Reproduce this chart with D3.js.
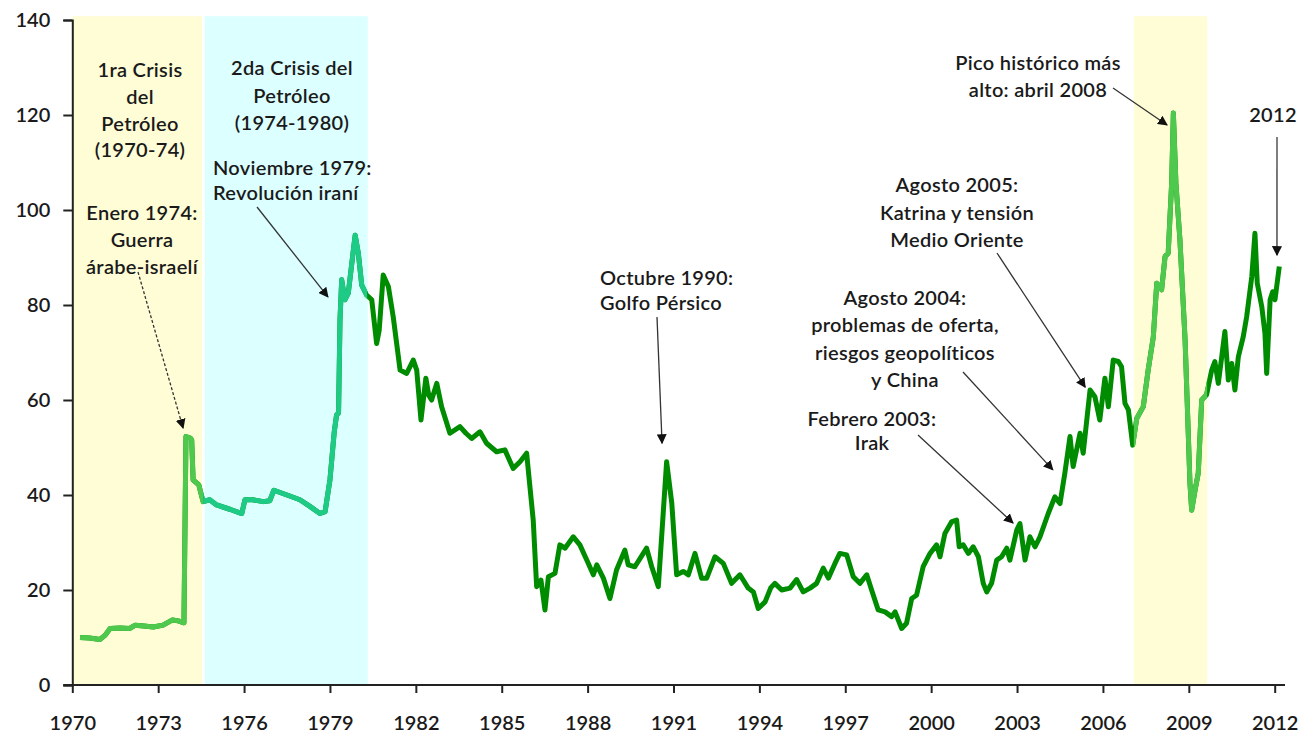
<!DOCTYPE html>
<html>
<head>
<meta charset="utf-8">
<script src="https://cdnjs.cloudflare.com/ajax/libs/d3/7.8.5/d3.min.js"></script>
<style>
  body { margin: 0; background: #fff; }
  text { font-family: Lato, "Noto Sans", sans-serif; }
</style>
</head>
<body>
<div id="chart"></div>
<script>
const w = 1306, h = 738;

const dates = [
  1970.27, 1970.6, 1970.97, 1971.15, 1971.32, 1971.67, 1972.0, 1972.2, 1972.5, 1972.83,
  1973.17, 1973.5, 1973.7, 1973.9, 1973.97, 1974.12, 1974.17, 1974.22, 1974.35, 1974.42,
  1974.57, 1974.8, 1975.04, 1975.5, 1975.92, 1976.03, 1976.3, 1976.67, 1976.9, 1977.04,
  1977.5, 1977.95, 1978.3, 1978.65, 1978.83, 1979.0, 1979.15, 1979.23, 1979.3, 1979.35,
  1979.41, 1979.52, 1979.64, 1979.88, 1979.99, 1980.11, 1980.28, 1980.46, 1980.63, 1980.72,
  1980.86, 1981.04, 1981.21, 1981.45, 1981.68, 1981.91, 1982.03, 1982.18, 1982.35, 1982.45,
  1982.55, 1982.73, 1982.9, 1983.19, 1983.54, 1983.75, 1983.95, 1984.24, 1984.47, 1984.82,
  1985.11, 1985.4, 1985.64, 1985.87, 1986.1, 1986.22, 1986.37, 1986.51, 1986.63, 1986.86,
  1987.03, 1987.21, 1987.5, 1987.73, 1987.97, 1988.2, 1988.32, 1988.55, 1988.78, 1989.01,
  1989.3, 1989.42, 1989.65, 1990.06, 1990.24, 1990.47, 1990.76, 1990.94, 1991.11, 1991.34,
  1991.52, 1991.75, 1991.98, 1992.16, 1992.45, 1992.74, 1993.03, 1993.32, 1993.61, 1993.79,
  1993.96, 1994.2, 1994.4, 1994.54, 1994.78, 1995.07, 1995.3, 1995.53, 1995.77, 1996.0,
  1996.23, 1996.41, 1996.64, 1996.81, 1997.05, 1997.28, 1997.51, 1997.75, 1997.92, 1998.15,
  1998.39, 1998.62, 1998.74, 1998.97, 1999.14, 1999.32, 1999.49, 1999.72, 1999.96, 2000.19,
  2000.31, 2000.48, 2000.72, 2000.89, 2000.98, 2001.12, 2001.3, 2001.47, 2001.65, 2001.82,
  2001.94, 2002.11, 2002.29, 2002.46, 2002.64, 2002.75, 2002.99, 2003.1, 2003.28, 2003.45,
  2003.63, 2003.8, 2004.09, 2004.32, 2004.5, 2004.67, 2004.85, 2004.96, 2005.2, 2005.31,
  2005.55, 2005.72, 2005.89, 2006.07, 2006.19, 2006.36, 2006.54, 2006.65, 2006.77, 2006.89,
  2007.04, 2007.18, 2007.41, 2007.58, 2007.76, 2007.88, 2008.05, 2008.17, 2008.28, 2008.4,
  2008.46, 2008.55, 2008.69, 2008.87, 2009.04, 2009.1, 2009.22, 2009.33, 2009.45, 2009.62,
  2009.8, 2009.91, 2010.03, 2010.15, 2010.26, 2010.38, 2010.5, 2010.61, 2010.73, 2010.9,
  2011.02, 2011.2, 2011.31, 2011.39, 2011.55, 2011.66, 2011.72, 2011.84, 2011.93, 2012.01,
  2012.16
];
const prices = [
  10.0, 9.9, 9.6, 10.5, 11.9, 12.0, 11.9, 12.6, 12.4, 12.2,
  12.6, 13.7, 13.5, 13.1, 52.3, 52.0, 51.6, 43.2, 42.5, 42.1,
  38.6, 39.0, 37.9, 37.0, 36.1, 39.0, 39.0, 38.6, 38.8, 41.0,
  40.0, 39.0, 37.6, 36.1, 36.5, 43.2, 53.3, 56.8, 57.3, 76.8,
  85.3, 81.1, 82.5, 94.7, 90.9, 84.2, 82.1, 81.1, 71.9, 74.7,
  86.3, 83.9, 77.5, 66.3, 65.6, 68.4, 66.3, 55.8, 64.6, 61.0,
  60.0, 63.5, 58.6, 53.0, 54.4, 53.0, 51.9, 53.3, 50.9, 49.1,
  49.5, 45.6, 47.0, 48.8, 34.7, 20.7, 22.1, 15.8, 22.8, 23.5,
  29.5, 28.8, 31.2, 29.5, 26.3, 23.2, 25.3, 22.5, 18.2, 24.2,
  28.4, 25.3, 24.9, 28.8, 24.9, 20.7, 47.0, 38.3, 23.2, 23.9,
  23.2, 27.7, 22.5, 22.5, 27.0, 25.6, 21.4, 23.2, 20.4, 19.6,
  16.1, 17.5, 20.5, 21.4, 20.0, 20.4, 22.2, 19.6, 20.4, 21.4,
  24.6, 22.5, 25.6, 27.7, 27.4, 22.8, 21.4, 23.2, 20.0, 15.8,
  15.4, 14.4, 15.4, 11.9, 13.0, 18.2, 18.9, 24.9, 27.7, 29.5,
  27.0, 31.9, 34.4, 34.7, 29.1, 29.5, 27.7, 29.1, 27.0, 21.4,
  19.6, 21.4, 26.3, 27.0, 28.8, 26.3, 32.6, 34.0, 26.3, 31.2,
  29.1, 31.2, 36.1, 39.6, 38.2, 44.6, 52.3, 46.0, 53.0, 48.8,
  62.1, 60.7, 55.8, 64.6, 58.6, 68.4, 68.1, 67.0, 59.3, 57.9,
  50.5, 56.1, 58.6, 66.3, 73.3, 84.6, 83.2, 90.2, 90.9, 105.6,
  120.4, 105.6, 93.7, 72.6, 42.5, 36.8, 41.1, 44.6, 60.0, 61.1,
  66.3, 68.1, 63.5, 69.1, 74.4, 64.2, 67.7, 62.1, 69.1, 73.3,
  77.5, 86.0, 95.1, 84.6, 79.6, 74.0, 65.6, 81.1, 82.8, 81.1,
  88.1
];

const yTicks = [0, 20, 40, 60, 80, 100, 120, 140];
const xTicks = [1970, 1973, 1976, 1979, 1982, 1985, 1988, 1991, 1994, 1997, 2000, 2003, 2006, 2009, 2012];

// shaded crisis periods
const bandStart = [1970, 1974.63, 2007.08];
const bandEnd   = [1974.53, 1980.32, 2009.64];
const bandFill  = ['#fffdd6', '#dcffff', '#fffdd6'];

// segments of the line drawn in a lighter colour
const segStart = [1970, 1974.57, 2007.08];
const segEnd   = [1974.57, 1980.3, 2009.64];
const segColor = ['#4ec94e', '#1dcb86', '#4ec94e'];

const svg = d3.select('#chart')
  .append('svg')
  .attr('width', w)
  .attr('height', h);

const x = d3.scaleLinear().domain([1970, 2012]).range([72.3, 1274.7]);
const y = d3.scaleLinear().domain([0, 140]).range([685, 20]);

// bands
svg.selectAll('rect.band')
  .data(bandStart)
  .enter()
  .append('rect')
  .attr('class', 'band')
  .attr('x', (d) => x(d))
  .attr('width', (d, i) => x(bandEnd[i]) - x(d))
  .attr('y', y(140.8))
  .attr('height', y(0) - y(140.8))
  .attr('fill', (d, i) => bandFill[i]);

// clip paths for coloured line segments
const defs = svg.append('defs');
segStart.forEach((s, i) => {
  defs.append('clipPath').attr('id', 'seg' + i)
    .append('rect')
    .attr('x', x(s)).attr('width', x(segEnd[i]) - x(s))
    .attr('y', 0).attr('height', h);
});

defs.append('marker')
  .attr('id', 'arrow')
  .attr('viewBox', '0 0 10 10')
  .attr('refX', 9).attr('refY', 5)
  .attr('markerWidth', 10).attr('markerHeight', 10)
  .attr('markerUnits', 'userSpaceOnUse')
  .attr('orient', 'auto')
  .append('path')
  .attr('d', 'M0,0L10,5L0,10z')
  .attr('fill', '#111');

const series = dates.map((d, i) => [d, prices[i]]);
const line = d3.line().x((d) => x(d[0])).y((d) => y(d[1]));

svg.append('path')
  .datum(series)
  .attr('d', line)
  .attr('fill', 'none')
  .attr('stroke', '#008c00')
  .attr('stroke-width', 5)
  .attr('stroke-linejoin', 'round');

segColor.forEach((c, i) => {
  svg.append('path')
    .datum(series)
    .attr('d', line)
    .attr('clip-path', 'url(#seg' + i + ')')
    .attr('fill', 'none')
    .attr('stroke', c)
    .attr('stroke-width', 5)
    .attr('stroke-linejoin', 'round');
});

// axes
const yAxis = d3.axisLeft(y).tickValues(yTicks).tickSize(9).tickPadding(13);
const gy = svg.append('g')
  .attr('transform', 'translate(' + x(1970) + ',0)')
  .call(yAxis);

const xAxis = d3.axisBottom(x).tickValues(xTicks).tickSize(8).tickPadding(23)
  .tickFormat(d3.format('d'));
const gx = svg.append('g')
  .attr('transform', 'translate(0,' + y(0) + ')')
  .call(xAxis);

gx.select('.domain').remove();
gx.append('line')
  .attr('x1', x(1970) - 9).attr('x2', 1285)
  .attr('stroke', '#222').attr('stroke-width', 2);

[gx, gy].forEach((g) => {
  g.selectAll('.domain, .tick line').attr('stroke', '#222').attr('stroke-width', 2);
  g.selectAll('text')
    .attr('fill', '#1a1a1a')
    .style('font-size', '20px')
    .style('font-weight', 600);
});

// annotations
const notes = [
  { t: ['1ra Crisis', 'del', 'Petróleo', '(1970-74)'], x: 140, y: 70, lh: 26.8, a: 'middle' },
  { t: ['2da Crisis del', 'Petróleo', '(1974-1980)'], x: 292, y: 68, lh: 27.5, a: 'middle' },
  { t: ['Noviembre 1979:', 'Revolución iraní'], x: 213, y: 168, lh: 25, a: 'start' },
  { t: ['Enero 1974:', 'Guerra', 'árabe-israelí'], x: 142, y: 213, lh: 27, a: 'middle' },
  { t: ['Octubre 1990:', 'Golfo Pérsico'], x: 600, y: 278, lh: 25, a: 'start' },
  { t: ['Febrero 2003:', 'Irak'], x: 872, y: 419, lh: 24, a: 'middle' },
  { t: ['Agosto 2004:', 'problemas de oferta,', 'riesgos geopolíticos', 'y China'], x: 905, y: 298, lh: 27.3, a: 'middle' },
  { t: ['Agosto 2005:', 'Katrina y tensión', 'Medio Oriente'], x: 957, y: 185, lh: 27.5, a: 'middle' },
  { t: ['Pico histórico más', 'alto: abril 2008'], x: 1038, y: 63, lh: 27, a: 'middle' },
  { t: ['2012'], x: 1273, y: 115, lh: 27, a: 'middle' }
];

notes.forEach((n) => {
  const txt = svg.append('text')
    .attr('text-anchor', n.a)
    .attr('fill', '#1a1a1a')
    .style('font-size', '20px')
    .style('letter-spacing', '0.3px')
    .style('font-weight', 600);
  n.t.forEach((s, i) => {
    txt.append('tspan')
      .attr('x', n.x)
      .attr('y', n.y + i * n.lh)
      .attr('dy', '0.35em')
      .text(s);
  });
});

// arrows: tail in pixels, tip in data units
const arrows = [
  { x1: 138, y1: 272, tx: 1973.87, ty: 54.1, dash: '3,2' },
  { x1: 257, y1: 207, tx: 1978.93, ty: 81.7 },
  { x1: 657, y1: 317, tx: 1990.6, ty: 50.9 },
  { x1: 918, y1: 435, tx: 2002.86, ty: 34.1 },
  { x1: 963, y1: 372, tx: 2004.25, ty: 45.3 },
  { x1: 997, y1: 253, tx: 2005.38, ty: 62.7 },
  { x1: 1113, y1: 88, tx: 2008.24, ty: 117.9 },
  { x1: 1277, y1: 137, tx: 2012.08, ty: 90.5 }
];

svg.selectAll('line.arrow')
  .data(arrows)
  .enter()
  .append('line')
  .attr('class', 'arrow')
  .attr('x1', (d) => d.x1)
  .attr('y1', (d) => d.y1)
  .attr('x2', (d) => x(d.tx))
  .attr('y2', (d) => y(d.ty))
  .attr('stroke', '#333')
  .attr('stroke-width', 1.3)
  .attr('stroke-dasharray', (d) => d.dash || null)
  .attr('marker-end', 'url(#arrow)');
</script>
</body>
</html>
